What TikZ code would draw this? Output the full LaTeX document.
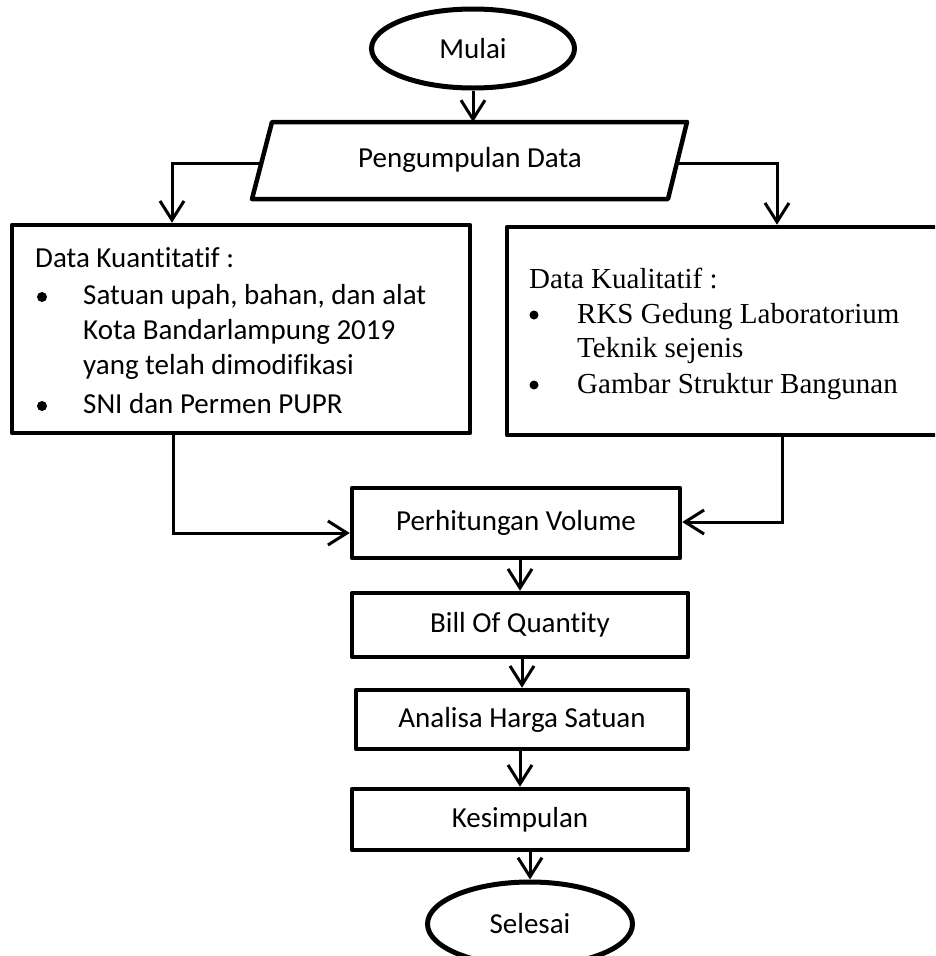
\documentclass[tikz,border=0pt]{standalone}
\usepackage{fontspec}
\setmainfont{Carlito}[Ligatures=NoCommon]
\newfontfamily\timesf{Liberation Serif}
\usetikzlibrary{arrows.meta,shapes.geometric}
\tikzset{
  box/.style={draw, line width=4.5pt, line join=round, rectangle, inner sep=0pt},
  term/.style={draw, line width=5pt, ellipse, inner sep=0pt},
  conn/.style={line width=3pt, -{Straight Barb[length=19pt,width=24pt]}},
  txt/.style={inner sep=0pt, font=\fontsize{29}{36}\selectfont},
  ttxt/.style={inner sep=0pt, font=\timesf\fontsize{29}{36}\selectfont},
  bul/.style={fill, circle, inner sep=0pt, minimum size=10pt},
  tbul/.style={fill, circle, inner sep=0pt, minimum size=9pt},
}
\begin{document}
\begin{tikzpicture}[x=1pt,y=-1pt]
\useasboundingbox (0,0) rectangle (935,956);
\clip (0,0) rectangle (935,956);
% terminals
\node[term, minimum width=203pt, minimum height=79pt, txt] (mulai) at (473,48.5) {Mulai};
\node[term, minimum width=205pt, minimum height=84pt, txt] (selesai) at (530,924) {Selesai};
% parallelogram
\coordinate (ptl) at (272,122);
\coordinate (ptr) at (687,122);
\coordinate (pbr) at (668,199);
\coordinate (pbl) at (252,199);
\draw[line width=4.5pt, line join=round] (ptl) -- (ptr) -- (pbr) -- (pbl) -- cycle;
\node[txt] (data) at (470,160) {Pengumpulan Data};
\coordinate (pl) at (261,163);
\coordinate (pr) at (675,163);
% boxes
\node[box, minimum width=458pt, minimum height=208pt] (kuan) at (241,329) {};
\node[box, minimum width=438pt, minimum height=208pt] (kual) at (726,331) {};
\node[box, minimum width=328pt, minimum height=70pt, txt] (vol) at (516,523) {Perhitungan Volume};
\node[box, minimum width=336pt, minimum height=64pt, txt] (boq) at (520,625) {Bill Of Quantity};
\node[box, minimum width=332pt, minimum height=59pt, txt] (ahs) at (522,719.5) {Analisa Harga Satuan};
\node[box, minimum width=336pt, minimum height=61pt, txt] (kes) at (520,819.5) {Kesimpulan};
% left box text
\node[txt, anchor=base west] (kt0) at (35,267) {Data Kuantitatif :};
\node[bul] (kb1) at (42,297) {};
\node[txt, anchor=base west] (kt1) at (83,304) {Satuan upah, bahan, dan alat};
\node[txt, anchor=base west] (kt2) at (83,339) {Kota Bandarlampung 2019};
\node[txt, anchor=base west] (kt3) at (83,374) {yang telah dimodifikasi};
\node[bul] (kb2) at (42,406) {};
\node[txt, anchor=base west] (kt4) at (83,413) {SNI dan Permen PUPR};
% right box text
\node[ttxt, anchor=base west] (qt0) at (529,288) {Data Kualitatif :};
\node[tbul] (qb1) at (534,315) {};
\node[ttxt, anchor=base west] (qt1) at (577,323) {RKS Gedung Laboratorium};
\node[ttxt, anchor=base west] (qt2) at (577,357) {Teknik sejenis};
\node[tbul] (qb2) at (534,385) {};
\node[ttxt, anchor=base west] (qt3) at (577,393) {Gambar Struktur Bangunan};
% connectors
\draw[conn] (mulai.south) -- (mulai.south |- ptl);
\coordinate (la) at (172,163);
\draw[conn] (pl) -- (la) -- (la |- kuan.north);
\coordinate (ra) at (777,163);
\draw[conn] (pr) -- (ra) -- (ra |- kual.north);
\coordinate (lb) at (173,533);
\draw[conn] (lb |- kuan.south) -- (lb) -- (lb -| vol.west);
\coordinate (rb) at (782,522);
\draw[conn] (rb |- kual.south) -- (rb) -- (rb -| vol.east);
\draw[conn] (boq.north |- vol.south) -- (boq.north);
\draw[conn] (ahs.north |- boq.south) -- (ahs.north);
\draw[conn] (kes.north |- ahs.south) -- (kes.north);
\draw[conn] (selesai.north |- kes.south) -- (selesai.north);
\end{tikzpicture}
\end{document}
